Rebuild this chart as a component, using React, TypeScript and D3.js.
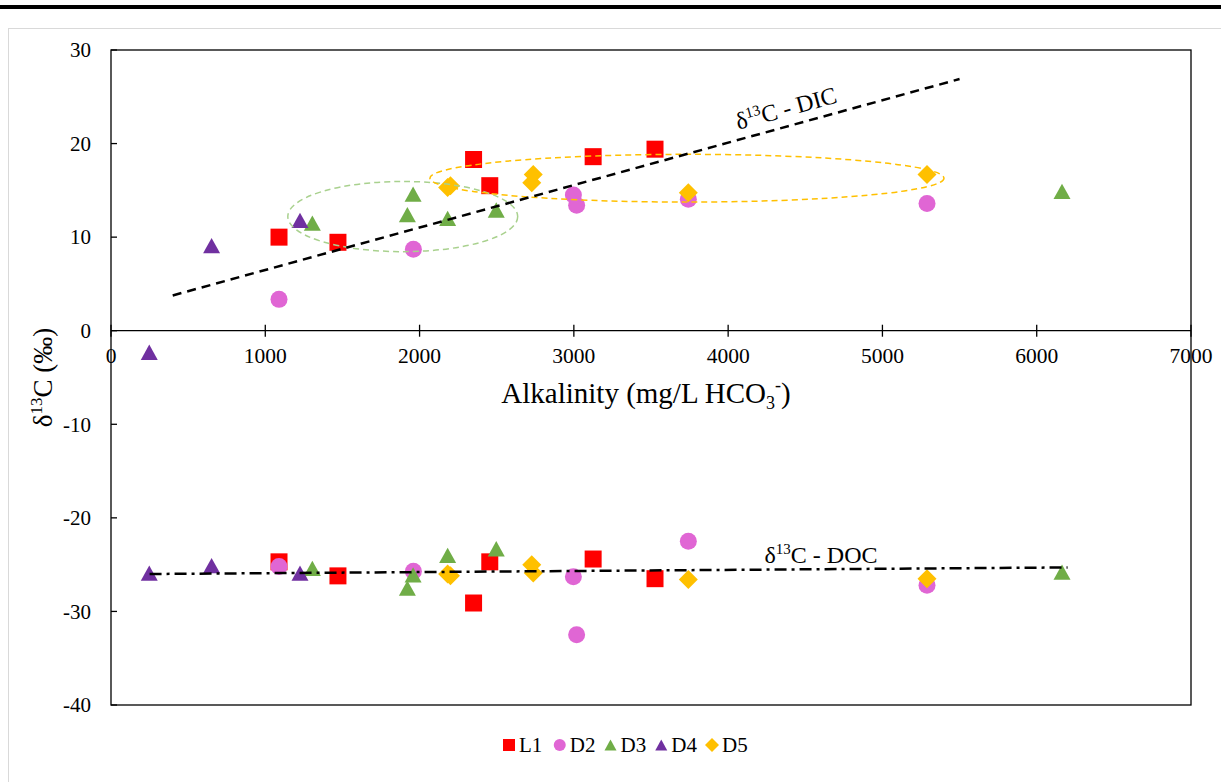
import * as d3 from "d3";
import React from "react";

// sample alkalinity (mg/L HCO3-) and d13C values per site
const alkL1 = [1089, 1471, 2350, 2455, 3125, 3526];
const dicL1 = [10.0, 9.45, 18.3, 15.5, 18.6, 19.4];
const docL1 = [-24.7, -26.2, -29.1, -24.7, -24.4, -26.5];

const alkD2 = [1089, 1960, 2997, 3018, 3742, 5289];
const dicD2 = [3.35, 8.7, 14.5, 13.4, 14.05, 13.6];
const docD2 = [-25.2, -25.7, -26.3, -32.5, -22.5, -27.2];

const alkD3 = [1305, 1921, 1958, 2182, 2497, 6164];
const dicD3 = [11.5, 12.4, 14.6, 12.0, 12.9, 14.9];
const docD3 = [-25.4, -27.5, -26.1, -24.0, -23.3, -25.8];

const alkD4 = [248, 652, 1225];
const dicD4 = [-2.3, 9.1, 11.8];
const docD4 = [-25.9, -25.1, -25.9];

const alkD5 = [2182, 2200, 2727, 2737, 3742, 5289];
const dicD5 = [15.3, 15.5, 15.8, 16.7, 14.75, 16.7];
const docD5 = [-26.0, -26.2, -25.0, -25.9, -26.6, -26.5];

const seriesNames = ["L1", "D2", "D3", "D4", "D5"];
const xTicks = [0, 1000, 2000, 3000, 4000, 5000, 6000, 7000];
const yTicks = [-40, -30, -20, -10, 0, 10, 20, 30];

// trend lines
const dicTrendX = [400, 5500];
const dicTrendY = [3.77, 26.9];
const docTrendX = [250, 6200];
const docTrendY = [-26.0, -25.3];

// group ellipses: centre x, centre y, radius x, radius y (data units)
const greenEllipse = [1891, 12.2, 745, 3.75];
const orangeEllipse = [3733, 16.3, 1666, 2.55];

const colors = {
  L1: "#FF0000",
  D2: "#E066D4",
  D3: "#70AD47",
  D4: "#7030A0",
  D5: "#FFC000",
};
const shapes = {
  L1: "square",
  D2: "circle",
  D3: "triangle",
  D4: "triangle",
  D5: "diamond",
};

const series = [
  { name: "L1", alk: alkL1, dic: dicL1, doc: docL1 },
  { name: "D2", alk: alkD2, dic: dicD2, doc: docD2 },
  { name: "D3", alk: alkD3, dic: dicD3, doc: docD3 },
  { name: "D4", alk: alkD4, dic: dicD4, doc: docD4 },
  { name: "D5", alk: alkD5, dic: dicD5, doc: docD5 },
];

const W = 1221,
  H = 782;
const margin = { top: 50, right: 30, bottom: 77, left: 111 };
const FONT = "Liberation Serif";

function markerPath(shape: string, s: number) {
  const h = s / 2;
  if (shape === "square") return `M${-h},${-h}H${h}V${h}H${-h}Z`;
  if (shape === "diamond") return `M0,${-h - 1}L${h + 1},0L0,${h + 1}L${-h - 1},0Z`;
  if (shape === "triangle") {
    const th = s * 0.9;
    return `M0,${-th / 2}L${h},${th / 2}L${-h},${th / 2}Z`;
  }
  return `M${-h},0A${h},${h} 0 1,0 ${h},0A${h},${h} 0 1,0 ${-h},0Z`;
}

function Marker({ name, x, y, size }) {
  return (
    <path
      d={markerPath(shapes[name], size)}
      transform={`translate(${x},${y})`}
      fill={colors[name]}
    />
  );
}

export default function App() {
  const x = d3
    .scaleLinear()
    .domain([0, 7000])
    .range([margin.left, W - margin.right]);
  const y = d3
    .scaleLinear()
    .domain([-40, 30])
    .range([H - margin.bottom, margin.top]);

  const line = d3
    .line<number[]>()
    .x((d) => x(d[0]))
    .y((d) => y(d[1]));

  const dicLine = line(dicTrendX.map((v, i) => [v, dicTrendY[i]]));
  const docLine = line(docTrendX.map((v, i) => [v, docTrendY[i]]));

  // DIC label rotation along the trend line
  const angle =
    (Math.atan2(
      y(dicTrendY[1]) - y(dicTrendY[0]),
      x(dicTrendX[1]) - x(dicTrendX[0])
    ) *
      180) /
    Math.PI;
  const dicLabelAlk = 4390;
  const dicLabelVal =
    dicTrendY[0] +
    ((dicLabelAlk - dicTrendX[0]) * (dicTrendY[1] - dicTrendY[0])) /
      (dicTrendX[1] - dicTrendX[0]);

  const legendX = d3.scalePoint().domain(seriesNames).range([509, 712]);

  const ell = (e, color) => (
    <ellipse
      cx={x(e[0])}
      cy={y(e[1])}
      rx={x(e[0] + e[2]) - x(e[0])}
      ry={y(e[1] - e[3]) - y(e[1])}
      fill="none"
      stroke={color}
      strokeWidth={1.5}
      strokeDasharray="6 4"
    />
  );

  return (
    <div style={{ position: "fixed", left: 0, top: 0 }}>
      <svg width={W} height={H} style={{ display: "block" }}>
        <rect width={W} height={H} fill="#fff" />
        <rect x={0} y={5} width={W} height={4} fill="#000" />
        <line x1={8} x2={W} y1={28.5} y2={28.5} stroke="#d9d9d9" />
        <line x1={8.5} x2={8.5} y1={28} y2={H} stroke="#d9d9d9" />

        {/* plot frame */}
        <rect
          x={margin.left}
          y={margin.top}
          width={W - margin.left - margin.right}
          height={H - margin.top - margin.bottom}
          fill="none"
          stroke="#000"
          strokeWidth={1.3}
        />

        <g fontFamily={FONT} fill="#000">
          {/* y axis */}
          {yTicks.map((t) => (
            <g key={t}>
              <line
                x1={x(0)}
                x2={x(0) + 6}
                y1={y(t)}
                y2={y(t)}
                stroke="#000"
                strokeWidth={1.3}
              />
              <text
                x={91}
                y={y(t)}
                dy="0.35em"
                textAnchor="end"
                fontSize={21}
                fontFamily={FONT}
              >
                {t}
              </text>
            </g>
          ))}

          {/* x axis at zero */}
          <line
            x1={x(0)}
            x2={x(7000)}
            y1={y(0)}
            y2={y(0)}
            stroke="#000"
            strokeWidth={1.3}
          />
          {xTicks.map((t) => (
            <g key={t}>
              <line
                x1={x(t)}
                x2={x(t)}
                y1={y(0) - 6}
                y2={y(0) + 6}
                stroke="#000"
                strokeWidth={1.3}
              />
              <text
                x={x(t)}
                y={y(0) + 32}
                textAnchor="middle"
                fontSize={21.5}
                fontFamily={FONT}
              >
                {t}
              </text>
            </g>
          ))}

          <text
            x={646}
            y={403}
            textAnchor="middle"
            fontSize={29}
            fontFamily={FONT}
          >
            Alkalinity (mg/L HCO
            <tspan fontSize={18} dy={6}>3</tspan>
            <tspan fontSize={18} dy={-18}>-</tspan>
            <tspan dy={12}>)</tspan>
          </text>

          <text
            transform={`translate(52,${(margin.top + H - margin.bottom) / 2}) rotate(-90)`}
            textAnchor="middle"
            fontSize={27}
            fontFamily={FONT}
          >
            δ<tspan fontSize={17} dy={-10}>13</tspan>
            <tspan dy={10}>C (‰)</tspan>
          </text>
        </g>

        {/* markers */}
        {series.map((s) =>
          s.alk.map((a, i) => (
            <g key={s.name + i}>
              <Marker name={s.name} x={x(a)} y={y(s.dic[i])} size={17} />
              <Marker name={s.name} x={x(a)} y={y(s.doc[i])} size={17} />
            </g>
          ))
        )}

        {/* group ellipses */}
        {ell(greenEllipse, "#A9D18E")}
        {ell(orangeEllipse, "#FFC000")}

        {/* trend lines */}
        <path
          d={dicLine}
          fill="none"
          stroke="#000"
          strokeWidth={2.5}
          strokeDasharray="9 6"
        />
        <path
          d={docLine}
          fill="none"
          stroke="#000"
          strokeWidth={2.5}
          strokeDasharray="12 5 3 5"
        />

        <g fontFamily={FONT}>
          <text
            transform={`translate(${x(dicLabelAlk)},${y(dicLabelVal) - 10}) rotate(${angle})`}
            textAnchor="middle"
            fontSize={24}
            fontFamily={FONT}
          >
            δ<tspan fontSize={15} dy={-9}>13</tspan>
            <tspan dy={9}>C - DIC</tspan>
          </text>
          <text
            x={821}
            y={563}
            textAnchor="middle"
            fontSize={24}
            fontFamily={FONT}
          >
            δ<tspan fontSize={15} dy={-9}>13</tspan>
            <tspan dy={9}>C - DOC</tspan>
          </text>

          {/* legend */}
          {seriesNames.map((n) => (
            <g key={n}>
              <Marker name={n} x={legendX(n)} y={745} size={12} />
              <text
                x={legendX(n) + 10}
                y={752}
                fontSize={21}
                fontFamily={FONT}
              >
                {n}
              </text>
            </g>
          ))}
        </g>
      </svg>
    </div>
  );
}
